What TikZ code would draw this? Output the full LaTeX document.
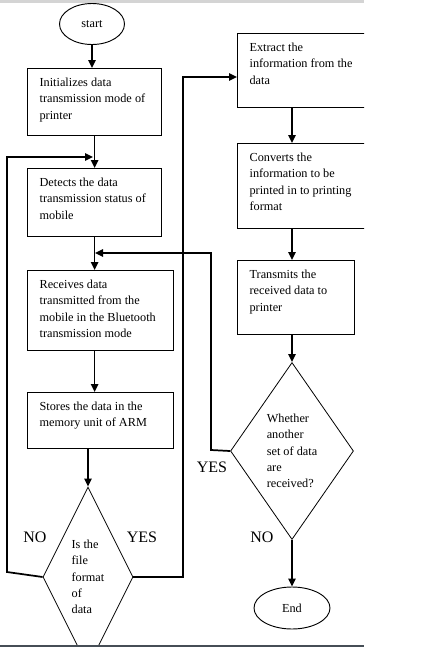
\documentclass[tikz,border=0pt]{standalone}
\usepackage{fontspec}
\setmainfont{Liberation Serif}
\usepackage{tikz}
\usetikzlibrary{arrows.meta,shapes.geometric}
\definecolor{topgray}{RGB}{212,212,212}
\definecolor{botgray}{RGB}{70,78,86}
\newcommand{\boxtxt}[3]{\parbox[c][\dimexpr#2-10pt\relax][t]{\dimexpr#1-18pt\relax}{\raggedright\strut#3}}

\begin{document}
\begin{tikzpicture}[x=0.75pt,y=-0.75pt,
  font=\fontsize{9.2}{12.2}\selectfont,
  procbox/.style={draw,rectangle,line width=0.9pt,anchor=north west,inner xsep=9pt,inner ysep=5pt},
  decbox/.style={draw,diamond,line width=0.6pt,inner sep=0pt,align=left},
  termbox/.style={draw,ellipse,line width=0.7pt,inner sep=0pt},
  conn/.style={line width=1.3pt,-{Triangle[length=6pt,width=5.5pt]}},
  lbl/.style={font=\fontsize{12}{14}\selectfont}]
\useasboundingbox (0,0) rectangle (433,647);
\fill[topgray] (0,0) rectangle (364,3);
\begin{scope}
\clip (0,3) rectangle (364,645);
\node[termbox,minimum width=48.75pt,minimum height=30.75pt] (start) at (92,24) {start};
\node[procbox] (init) at (27,68) {\boxtxt{100.5pt}{50.25pt}{Initializes data\\transmission mode of\\printer}};
\node[procbox] (detect) at (27,168) {\boxtxt{100.5pt}{51pt}{Detects the data\\transmission status of\\mobile}};
\node[procbox] (recv) at (27,270) {\boxtxt{109.5pt}{60pt}{Receives data\\transmitted from the\\mobile in the Bluetooth\\transmission mode}};
\node[procbox] (store) at (27,392) {\boxtxt{109.5pt}{42pt}{Stores the data in the\\memory unit of ARM}};
\node[decbox,shape aspect=0.5,minimum width=67.5pt,minimum height=135pt] (dec1) at (88,577) {Is the\\file\\format\\of\\data};
\node[procbox] (extract) at (237,33) {\boxtxt{105pt}{55.5pt}{Extract the\\information from the\\data}};
\node[procbox] (conv) at (237,143) {\boxtxt{105pt}{63.75pt}{Converts the\\information to be\\printed in to printing\\format}};
\node[procbox] (trans) at (237,260) {\boxtxt{87.75pt}{55.5pt}{Transmits the\\received data to\\printer}};
\node[decbox,shape aspect=0.7,minimum width=92.25pt,minimum height=132.75pt] (dec2) at (292,451) {Whether\\another\\set of data\\are\\received?};
\node[termbox,minimum width=57pt,minimum height=31.5pt] (end) at (292,608) {End};

\node[lbl] (nolbl1) at (35,537) {NO};
\node[lbl] (yeslbl1) at (142,537) {YES};
\node[lbl] (yeslbl2) at (212,467) {YES};
\node[lbl] (nolbl2) at (262,537) {NO};

\coordinate (jn1) at (93,157);
\coordinate (jn2) at (95,253);

\draw[conn] (start.south) -- (start.south |- init.north);
\draw[conn] (init.south) -- (detect.north);
\draw[conn] (detect.south) -- (recv.north -| detect.south);
\draw[conn] (recv.south -| detect.south) -- (store.north -| detect.south);
\draw[conn] (store.south -| dec1.north) -- (dec1.north);
\draw[conn] (extract.south -| dec2.north) -- (conv.north -| dec2.north);
\draw[conn] (conv.south -| dec2.north) -- (trans.north -| dec2.north);
\draw[conn] (trans.south -| dec2.north) -- (dec2.north);
\draw[conn] (dec2.south) -- (end.north);
\draw[conn] (dec1.west) -- (7,572) -- (7,157) -- (jn1);
\draw[conn] (dec2.west) -- (211,450) -- (211,253) -- (jn2);
\draw[conn] (dec1.east) -- (183,577) -- (183,77) -- (extract.west |- 0,77);
\end{scope}
\fill[botgray] (0,645) rectangle (364,647);
\end{tikzpicture}
\end{document}
